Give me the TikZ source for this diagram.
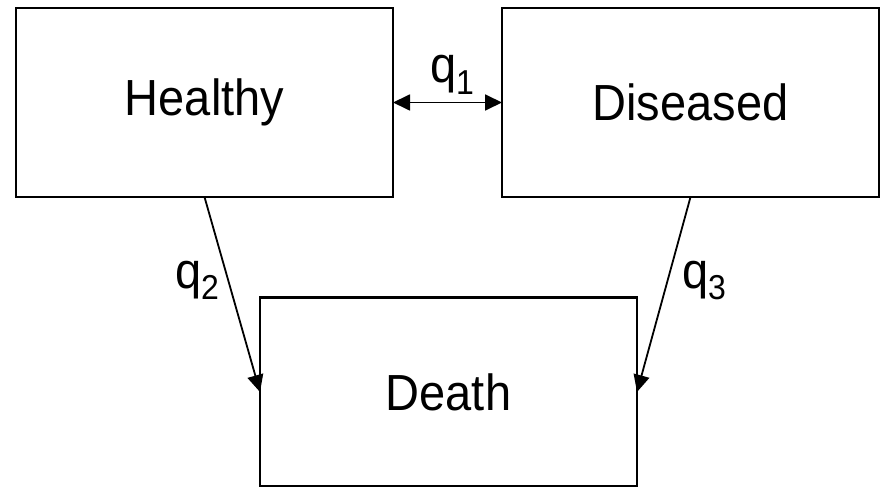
\documentclass[tikz,border=0pt]{standalone}
\usepackage{fontspec}
\setmainfont{Liberation Sans}
\usetikzlibrary{arrows.meta}
\newcommand\ratesub[1]{\raisebox{-0.22em}{\fontsize{16}{19}\selectfont #1}}
\newcommand\tallbox[1]{\scalebox{1}[1.08]{#1}}
\begin{document}
\begin{tikzpicture}[x=0.5pt,y=-0.5pt,
  state/.style={draw, line width=1.2pt, minimum width=188.5pt, minimum height=94.5pt,
    inner sep=0pt, outer sep=0pt, font=\fontsize{23.5}{28}\selectfont},
  flow/.style={line width=0.9pt, -{Triangle[length=8.5pt,width=8pt]}},
  bothflow/.style={line width=0.9pt, {Triangle[length=8.5pt,width=8pt]}-{Triangle[length=8.5pt,width=8pt]}},
  rate/.style={anchor=base, inner sep=0pt, font=\fontsize{23.5}{28}\selectfont}]
\useasboundingbox (0,0) rectangle (886,486);
\node[state] (H) at (204.5,102.5) {\tallbox{Healthy}};
\node[state] (D) at (690.5,102.5) {\tallbox{Diseased}};
\node[state] (X) at (448.5,392) {\tallbox{Death}};
\draw[bothflow] (H.east) -- (D.west);
\draw[flow] (H.south) -- (X.west);
\draw[flow] (D.south) -- (X.east);
\node[rate] (q1) at (452,83) {\tallbox{q\ratesub{1}}};
\node[rate] (q2) at (197,288) {\tallbox{q\ratesub{2}}};
\node[rate] (q3) at (704,288) {\tallbox{q\ratesub{3}}};
\end{tikzpicture}
\end{document}
